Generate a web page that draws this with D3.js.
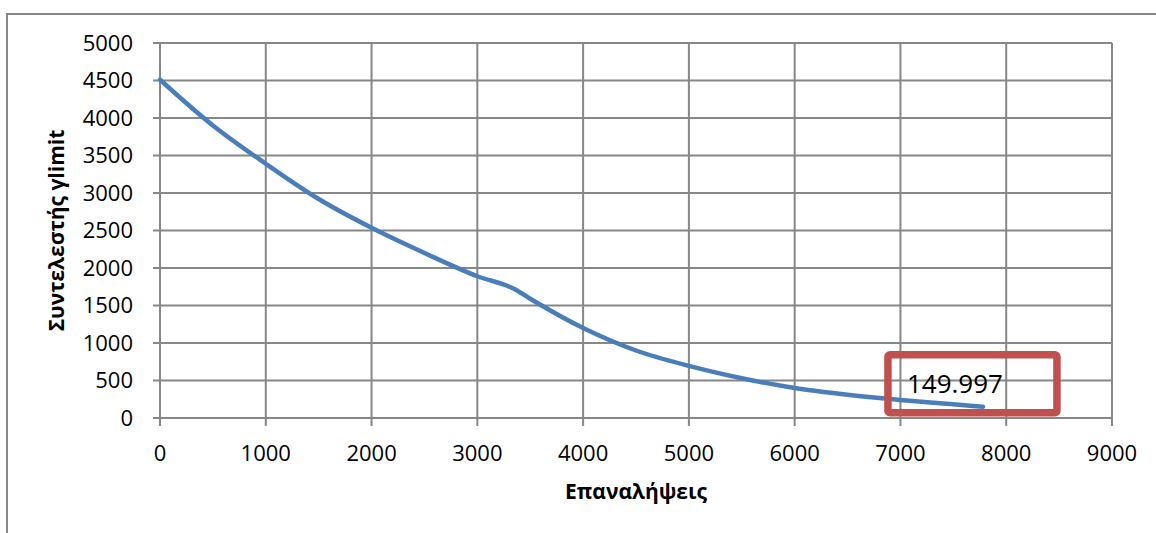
<!DOCTYPE html>
<html>
<head>
<meta charset="utf-8">
<script src="https://cdn.jsdelivr.net/npm/d3@7/dist/d3.min.js"></script>
<style>
  html, body { margin: 0; padding: 0; background: #fff; }
  svg { display: block; }
  text { font-family: "Open Sans", "Noto Sans", sans-serif; fill: #000; }
</style>
</head>
<body>
<svg id="chart" width="1156" height="533"></svg>
<script>
// Iterations (x) and ylimit coefficient values (y)
const iterations = [0, 500, 1000, 1500, 2000, 2500, 3000, 3350, 3500, 4000, 4500, 5000, 5500, 6000, 6500, 7000, 7500, 7780];
const ylimit     = [4510, 3900, 3390, 2920, 2536, 2200, 1890, 1720, 1590, 1200, 900, 695, 530, 400, 310, 240, 183, 149.997];

const xTicks = [0, 1000, 2000, 3000, 4000, 5000, 6000, 7000, 8000, 9000];
const yTicks = [0, 500, 1000, 1500, 2000, 2500, 3000, 3500, 4000, 4500, 5000];

const xTitle = "Επαναλήψεις";
const yTitle = "Συντελεστής γlimit";
const finalLabel = "149.997";

const svg = d3.select("#chart");
const plot = { left: 160, right: 1112, top: 43, bottom: 418 };
const gridColor = "#878787";

// Outer chart frame
svg.append("rect")
  .attr("x", 7).attr("y", 14)
  .attr("width", 1170).attr("height", 540)
  .attr("fill", "none")
  .attr("stroke", gridColor)
  .attr("stroke-width", 2);

const x = d3.scaleLinear().domain([0, 9000]).range([plot.left, plot.right]);
const y = d3.scaleLinear().domain([0, 5000]).range([plot.bottom, plot.top]);

// Horizontal gridlines (extend left of the axis as tick marks)
svg.append("g")
  .selectAll("line")
  .data(yTicks)
  .join("line")
  .attr("x1", plot.left - 7).attr("x2", plot.right)
  .attr("y1", d => y(d)).attr("y2", d => y(d))
  .attr("stroke", gridColor).attr("stroke-width", 2);

// Vertical gridlines (extend below the axis as tick marks)
svg.append("g")
  .selectAll("line")
  .data(xTicks)
  .join("line")
  .attr("x1", d => x(d)).attr("x2", d => x(d))
  .attr("y1", plot.top).attr("y2", plot.bottom + 8)
  .attr("stroke", gridColor).attr("stroke-width", 2);

// Y tick labels
svg.append("g")
  .selectAll("text")
  .data(yTicks)
  .join("text")
  .attr("x", 133)
  .attr("y", d => y(d))
  .attr("dy", "0.36em")
  .attr("text-anchor", "end")
  .attr("font-size", 22)
  .text(d => d);

// X tick labels
svg.append("g")
  .selectAll("text")
  .data(xTicks)
  .join("text")
  .attr("x", d => x(d))
  .attr("y", 461)
  .attr("text-anchor", "middle")
  .attr("font-size", 22)
  .text(d => d);

// Axis titles
svg.append("text")
  .attr("x", (plot.left + plot.right) / 2)
  .attr("y", 499)
  .attr("text-anchor", "middle")
  .attr("font-size", 21)
  .attr("font-weight", "bold")
  .text(xTitle);

svg.append("text")
  .attr("transform", `translate(64,${(plot.top + plot.bottom) / 2}) rotate(-90)`)
  .attr("text-anchor", "middle")
  .attr("font-size", 21)
  .attr("font-weight", "bold")
  .text(yTitle);

// Curve
const points = iterations.map((it, i) => [it, ylimit[i]]);
svg.append("path")
  .datum(points)
  .attr("fill", "none")
  .attr("stroke", "#4a7ebb")
  .attr("stroke-width", 4.5)
  .attr("stroke-linecap", "round")
  .attr("stroke-linejoin", "round")
  .attr("d", d3.line().x(d => x(d[0])).y(d => y(d[1])).curve(d3.curveMonotoneX));

// Final value callout
const last = points[points.length - 1];
const lx = x(last[0]), ly = y(last[1]);
svg.append("rect")
  .attr("x", lx - 95).attr("y", ly - 52)
  .attr("width", 169).attr("height", 58)
  .attr("rx", 2)
  .attr("fill", "none")
  .attr("stroke", "#c0504d")
  .attr("stroke-width", 7.5);

svg.append("text")
  .attr("x", lx - 76)
  .attr("y", ly - 14)
  .attr("font-size", 26)
  .text(finalLabel);
</script>
</body>
</html>
